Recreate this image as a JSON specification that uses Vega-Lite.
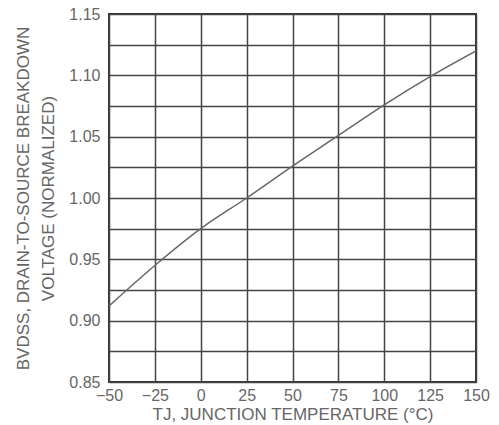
{
  "$schema": "https://vega.github.io/schema/vega-lite/v6.json",
  "width": 367,
  "height": 368,
  "autosize": {"type": "none"},
  "padding": {"left": 109, "top": 14, "right": 23, "bottom": 43},
  "background": "white",
  "config": {
    "view": {"stroke": "#333", "strokeWidth": 2},
    "font": "Liberation Sans",
    "axis": {
      "labelFont": "Liberation Sans",
      "titleFont": "Liberation Sans",
      "labelColor": "#666",
      "titleColor": "#666",
      "labelFontSize": 16,
      "titleFontSize": 17,
      "titleFontWeight": "normal",
      "gridColor": "#444",
      "gridWidth": 1.5,
      "gridOpacity": 1,
      "ticks": false,
      "domain": false
    }
  },
  "data": {
    "values": [
      {"t": -50, "bv": 0.912},
      {"t": -25, "bv": 0.945},
      {"t": 0, "bv": 0.975},
      {"t": 25, "bv": 1.0},
      {"t": 50, "bv": 1.026},
      {"t": 75, "bv": 1.051},
      {"t": 100, "bv": 1.076},
      {"t": 125, "bv": 1.099},
      {"t": 150, "bv": 1.12}
    ]
  },
  "mark": {"type": "line", "interpolate": "monotone", "color": "#666", "strokeWidth": 1.5, "clip": true},
  "encoding": {
    "x": {
      "field": "t",
      "type": "quantitative",
      "scale": {"domain": [-50, 150], "nice": false},
      "axis": {
        "values": [-50, -25, 0, 25, 50, 75, 100, 125, 150],
        "title": "TJ, JUNCTION TEMPERATURE (°C)",
        "labelPadding": 5,
        "titlePadding": 3,
        "labelFlush": false
      }
    },
    "y": {
      "field": "bv",
      "type": "quantitative",
      "scale": {"domain": [0.85, 1.15], "nice": false, "zero": false},
      "axis": {
        "values": [0.85, 0.875, 0.9, 0.925, 0.95, 0.975, 1.0, 1.025, 1.05, 1.075, 1.1, 1.125, 1.15],
        "format": ".2f",
        "labelExpr": "round(datum.value*1000) % 50 === 0 ? datum.label : ''",
        "labelOverlap": false,
        "labelFlush": false,
        "labelPadding": 9,
        "title": ["BVDSS, DRAIN-TO-SOURCE BREAKDOWN", "VOLTAGE (NORMALIZED)"],
        "titleLineHeight": 25,
        "titlePadding": 11
      }
    }
  }
}
